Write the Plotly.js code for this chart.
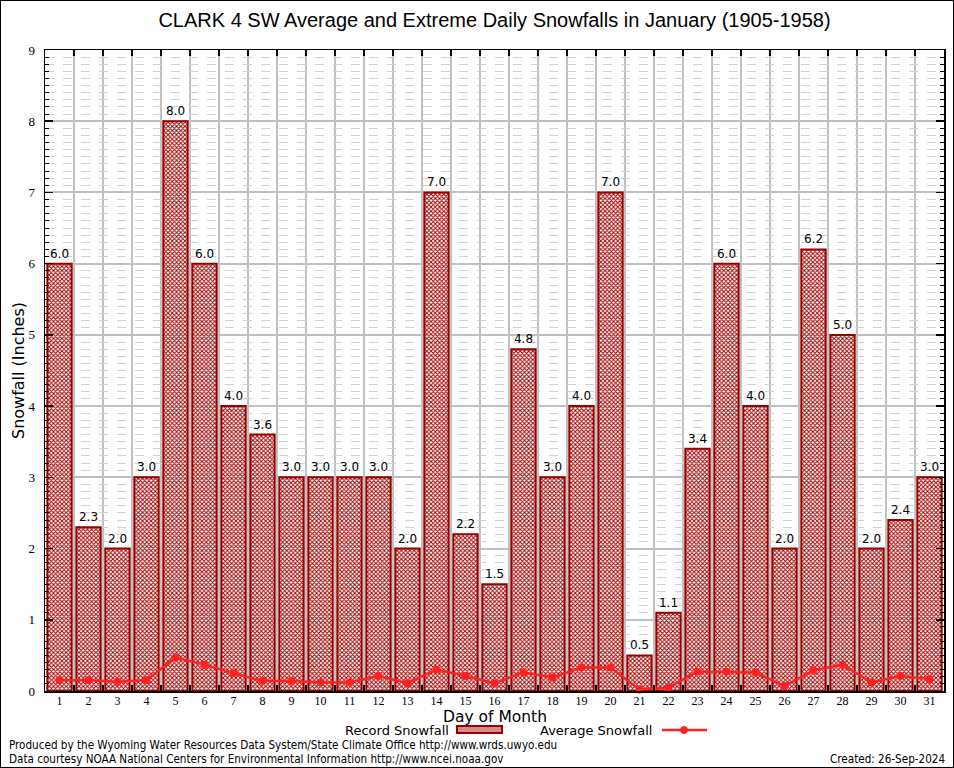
<!DOCTYPE html>
<html>
<head>
<meta charset="utf-8">
<script src="https://cdn.plot.ly/plotly-3.0.1.min.js"></script>
<style>
body{margin:0;padding:0;background:#fff;}
#chart{width:954px;height:768px;}
#frame{position:absolute;left:0;top:0;width:954px;height:768px;box-sizing:border-box;border:1px solid #000;pointer-events:none;}
</style>
</head>
<body>
<div id="chart"></div>
<div id="frame"></div>
<script>
var days = [1,2,3,4,5,6,7,8,9,10,11,12,13,14,15,16,17,18,19,20,21,22,23,24,25,26,27,28,29,30,31];
var recordSnowfall = [6.0,2.3,2.0,3.0,8.0,6.0,4.0,3.6,3.0,3.0,3.0,3.0,2.0,7.0,2.2,1.5,4.8,3.0,4.0,7.0,0.5,1.1,3.4,6.0,4.0,2.0,6.2,5.0,2.0,2.4,3.0];
var averageSnowfall = [0.15,0.15,0.13,0.15,0.47,0.37,0.25,0.14,0.14,0.12,0.12,0.21,0.11,0.30,0.21,0.11,0.26,0.19,0.33,0.33,0.02,0.05,0.27,0.27,0.26,0.07,0.29,0.37,0.12,0.21,0.17];
var halfDays = [1.5,2.5,3.5,4.5,5.5,6.5,7.5,8.5,9.5,10.5,11.5,12.5,13.5,14.5,15.5,16.5,17.5,18.5,19.5,20.5,21.5,22.5,23.5,24.5,25.5,26.5,27.5,28.5,29.5,30.5];

var L = 45, R = 944, T = 50, B = 691;
function px(p){ return (p - L) / (R - L); }
function py(q){ return (B - q) / (B - T); }

var traces = [
  {
    type: 'bar', x: days, y: recordSnowfall, name: 'Record Snowfall',
    width: 0.84,
    marker: {color: '#ffffff', line: {color: '#990000', width: 2},
      pattern: {shape: 'x', fgcolor: '#a00000', bgcolor: '#ffffff', size: 3, solidity: 0.55}},
    text: recordSnowfall.map(function(v){return v.toFixed(1);}),
    textposition: 'outside', cliponaxis: false,
    textfont: {family: 'DejaVu Sans', size: 12, color: '#000'},
    hoverinfo: 'skip', showlegend: false
  },
  {
    type: 'scatter', mode: 'lines+markers', x: days, y: averageSnowfall, name: 'Average Snowfall',
    line: {color: '#ff2020', width: 2.5},
    marker: {color: '#ff2020', size: 8, symbol: 'circle'},
    hoverinfo: 'skip', showlegend: false, cliponaxis: false
  }
];

var layout = {
  width: 954, height: 768,
  margin: {l: L, r: 954 - R, t: T, b: 768 - B},
  paper_bgcolor: '#ffffff', plot_bgcolor: '#ffffff',
  showlegend: false, bargap: 0.16,
  title: {text: 'CLARK 4 SW Average and Extreme Daily Snowfalls in January (1905-1958)',
    font: {family: 'Liberation Sans', size: 20, color: '#000'}, xref: 'paper', x: 0.5, xanchor: 'center', y: 0.974, yanchor: 'middle'},
  xaxis: {
    range: [0.5, 31.5], tickmode: 'array', tickvals: days, ticktext: days.map(String),
    ticks: '', showgrid: false, zeroline: false,
    showline: true, linecolor: '#000', linewidth: 1.5, mirror: 'allticks',
    tickfont: {family: 'Liberation Serif', size: 12, color: '#000'},
    ticklabelstandoff: -2,
    minor: {tickmode: 'array', tickvals: halfDays, ticks: 'inside', ticklen: 6, tickcolor: '#000', tickwidth: 1.5,
      showgrid: true, gridcolor: '#c0c0c0', gridwidth: 2}
  },
  yaxis: {
    range: [0, 9], dtick: 1, tick0: 0, ticks: 'inside', ticklen: 8, tickcolor: '#000', tickwidth: 1.5,
    showgrid: true, gridcolor: '#c0c0c0', gridwidth: 2, zeroline: false,
    showline: true, linecolor: '#000', linewidth: 1.5, mirror: 'allticks',
    tickfont: {family: 'Liberation Serif', size: 13, color: '#000'},
    ticklabelstandoff: 6,
    minor: {dtick: 0.1, ticks: 'inside', ticklen: 4, tickcolor: '#000', tickwidth: 1,
      showgrid: true, gridcolor: '#d0d0d0', gridwidth: 1, griddash: 'dash'},
    title: {text: 'Snowfall (Inches)', font: {family: 'DejaVu Sans', size: 16, color: '#000'}, standoff: 0}
  },
  annotations: [
    {xref: 'paper', yref: 'paper', x: 0.5, y: py(716.5), xanchor: 'center', yanchor: 'middle', showarrow: false,
      text: 'Day of Month', font: {family: 'DejaVu Sans', size: 15.5, color: '#000'}},
    {xref: 'paper', yref: 'paper', x: px(451), y: py(730), xanchor: 'right', yanchor: 'middle', showarrow: false,
      text: 'Record Snowfall', font: {family: 'DejaVu Sans', size: 13, color: '#000'}},
    {xref: 'paper', yref: 'paper', x: px(654), y: py(730), xanchor: 'right', yanchor: 'middle', showarrow: false,
      text: 'Average Snowfall', font: {family: 'DejaVu Sans', size: 13, color: '#000'}},
    {xref: 'paper', yref: 'paper', x: px(7), y: py(745), xanchor: 'left', yanchor: 'middle', showarrow: false,
      text: 'Produced by the Wyoming Water Resources Data System/State Climate Office http://www.wrds.uwyo.edu',
      font: {family: 'DejaVu Sans Condensed', size: 11.6, color: '#000'}},
    {xref: 'paper', yref: 'paper', x: px(7), y: py(759), xanchor: 'left', yanchor: 'middle', showarrow: false,
      text: 'Data courtesy NOAA National Centers for Environmental Information http://www.ncei.noaa.gov',
      font: {family: 'DejaVu Sans Condensed', size: 11.6, color: '#000'}},
    {xref: 'paper', yref: 'paper', x: px(947), y: py(759), xanchor: 'right', yanchor: 'middle', showarrow: false,
      text: 'Created: 26-Sep-2024',
      font: {family: 'DejaVu Sans Condensed', size: 11.6, color: '#000'}}
  ],
  shapes: [
    {type: 'rect', xref: 'paper', yref: 'paper', x0: px(457), x1: px(502), y0: py(733), y1: py(726),
      fillcolor: '#d88a8a', line: {color: '#990000', width: 2}},
    {type: 'line', xref: 'paper', yref: 'paper', x0: px(662), x1: px(707), y0: py(730), y1: py(730),
      line: {color: '#ff2020', width: 2.5}},
    {type: 'circle', xref: 'paper', yref: 'paper', x0: px(680.5), x1: px(687.5), y0: py(733.5), y1: py(726.5),
      fillcolor: '#ff2020', line: {color: '#ff2020', width: 1}}
  ]
};

Plotly.newPlot('chart', traces, layout, {staticPlot: true, displayModeBar: false});
</script>
</body>
</html>
